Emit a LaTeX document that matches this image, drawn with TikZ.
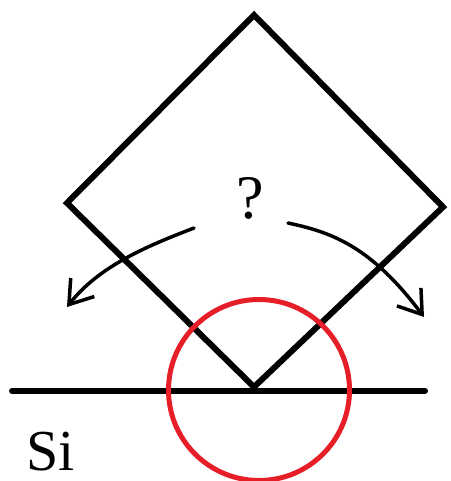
\documentclass[tikz,border=0pt]{standalone}
\usepackage{fontspec}
\setmainfont{Liberation Serif}
\usetikzlibrary{arrows.meta}
\definecolor{circred}{RGB}{230,30,40}
\begin{document}
\begin{tikzpicture}[x=1pt,y=-1pt,
  thickline/.style={line width=6pt,line cap=round,line join=miter},
  handarrow/.style={line width=3.5pt,line cap=round,-{Straight Barb[length=22pt,width=30pt,line width=3.5pt]}},
  redring/.style={draw=circred,line width=5pt}]
\useasboundingbox (0,0) rectangle (450,481);
\coordinate (T) at (254,15);
\coordinate (L) at (67,203);
\coordinate (R) at (443,207);
\coordinate (B) at (254,387);
\coordinate (SL) at (12,391);
\coordinate (SR) at (425,391);
\draw[thickline] (T) -- (R) -- (B) -- (L) -- cycle;
\draw[thickline] (SL) -- (SR);
\node[redring,circle,minimum size=181pt,inner sep=0pt] (ring) at (259,390) {};
\node (q) at (250,198) {\fontsize{62}{62}\selectfont ?};
\node[anchor=base west,inner sep=0pt] (si) at (26,470) {\fontsize{58}{58}\selectfont Si};
\coordinate (la) at (194,228);
\coordinate (lb) at (67,307);
\coordinate (ra) at (288,223);
\coordinate (rb) at (424,317);
\draw[handarrow] (la) .. controls (150,245) and (100,265) .. (lb);
\draw[handarrow] (ra) .. controls (330,232) and (370,245) .. (rb);
\end{tikzpicture}
\end{document}
